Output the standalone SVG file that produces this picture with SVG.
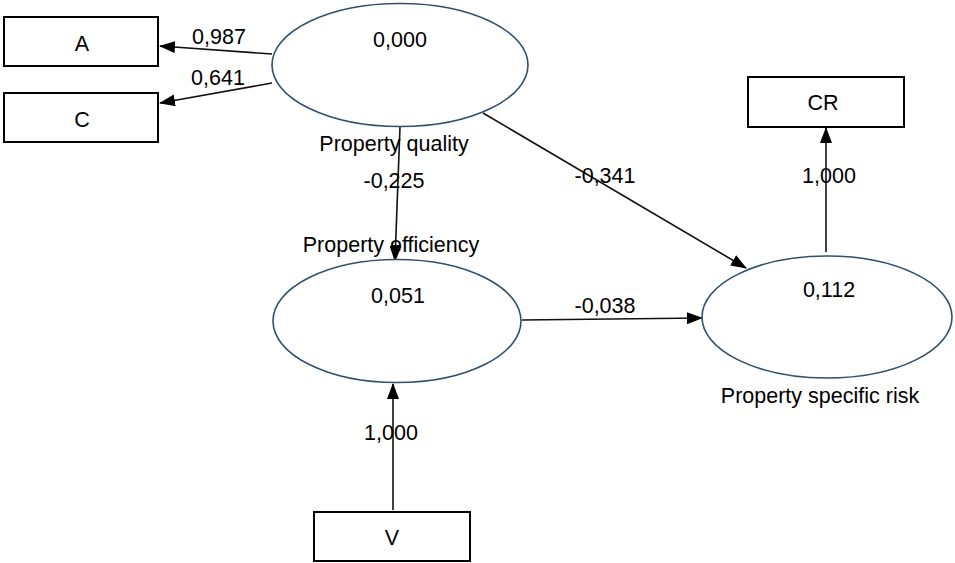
<svg xmlns="http://www.w3.org/2000/svg" width="955" height="563" viewBox="0 0 955 563">
<style>
text{font-family:"Liberation Sans",Arial,sans-serif;font-size:21.5px;fill:#000}
.c{text-anchor:middle}
.box{fill:#fff;stroke:#000;stroke-width:2}
.ell{fill:#fff;stroke:#2f4f6f;stroke-width:1.6}
.con{stroke:#111;stroke-width:1.6;fill:none;marker-end:url(#ah)}
</style>
<defs>
<marker id="ah" markerWidth="16" markerHeight="12" refX="15" refY="6" orient="auto" markerUnits="userSpaceOnUse">
<path d="M0,0 L16,6 L0,12 Z" fill="#000"/>
</marker>
</defs>
<rect width="955" height="563" fill="#fff"/>
<g id="connectors">
<line class="con" x1="272" y1="54" x2="160" y2="46"/>
<line class="con" x1="272" y1="83" x2="160" y2="103"/>
<line class="con" x1="400" y1="127" x2="395" y2="261"/>
<line class="con" x1="483" y1="113" x2="746" y2="268"/>
<line class="con" x1="522" y1="320" x2="702" y2="318"/>
<line class="con" x1="826" y1="252" x2="826" y2="128"/>
<line class="con" x1="393" y1="510" x2="393" y2="384"/>
</g>
<g id="A"><rect class="box" x="4" y="17" width="154" height="49"/><text class="c" x="82" y="51">A</text></g>
<g id="C"><rect class="box" x="4" y="93" width="154" height="49"/><text class="c" x="82" y="127">C</text></g>
<g id="CR"><rect class="box" x="748" y="77" width="156" height="50"/><text class="c" x="823" y="110">CR</text></g>
<g id="V"><rect class="box" x="314" y="512" width="156" height="49"/><text class="c" x="392" y="545">V</text></g>
<g id="PQ"><ellipse class="ell" cx="400" cy="65" rx="128" ry="61.5"/><text class="c" x="400" y="47">0,000</text><text class="c" x="394" y="151">Property quality</text></g>
<g id="PE"><ellipse class="ell" cx="397" cy="321" rx="124" ry="61.5"/><text class="c" x="398" y="303">0,051</text><text class="c" x="391" y="252">Property efficiency</text></g>
<g id="PSR"><ellipse class="ell" cx="827" cy="317" rx="125" ry="61"/><text class="c" x="829" y="297">0,112</text><text class="c" x="820" y="403">Property specific risk</text></g>
<g id="labels">
<text class="c" x="219" y="44">0,987</text>
<text class="c" x="218" y="85">0,641</text>
<text class="c" x="394" y="188">-0,225</text>
<text class="c" x="605" y="183">-0,341</text>
<text class="c" x="829" y="183">1,000</text>
<text class="c" x="605" y="313">-0,038</text>
<text class="c" x="391" y="440">1,000</text>
</g>
</svg>
